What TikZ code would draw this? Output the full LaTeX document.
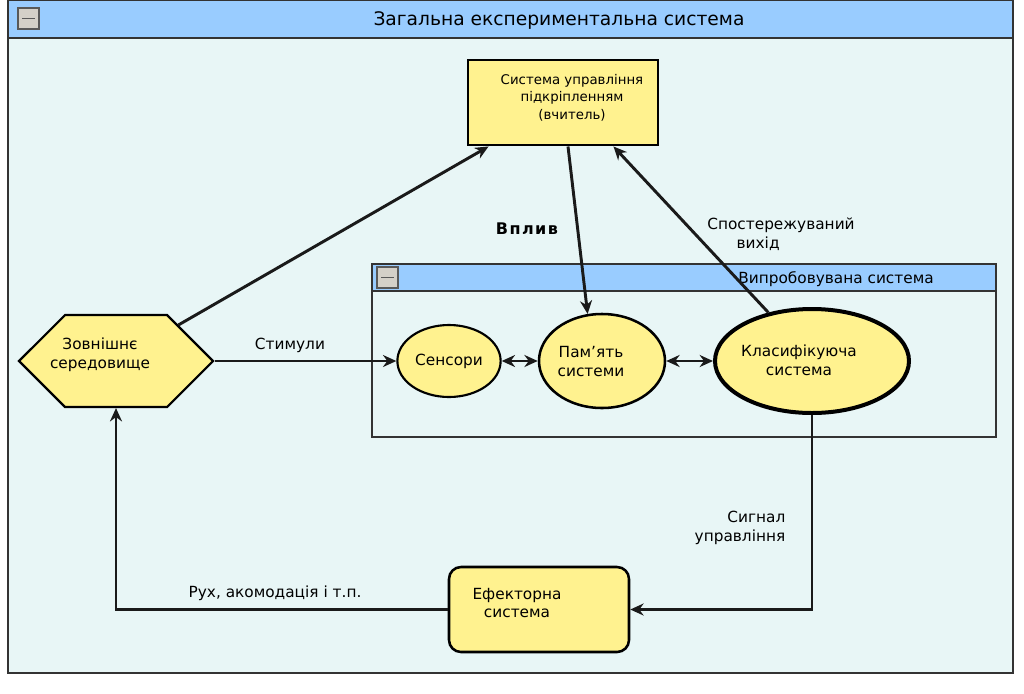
\documentclass[tikz,border=0pt]{standalone}
\usepackage{fontspec}
\setmainfont{DejaVu Sans}
\newfontfamily\spacedbold[LetterSpace=9]{DejaVu Sans Bold}
\usetikzlibrary{arrows.meta,shapes.geometric,shapes.symbols,calc}
\definecolor{headblue}{HTML}{99CCFF}
\definecolor{paleback}{HTML}{E8F6F6}
\definecolor{boxyellow}{HTML}{FFF28F}
\definecolor{btngrey}{HTML}{D4D0C8}
\definecolor{ink}{HTML}{1A1A1A}

\begin{document}
\begin{tikzpicture}[x=0.75pt,y=-0.75pt,font=\fontsize{11.5}{14}\selectfont,%
        frm/.style={draw=black!80, line width=0.8pt},
        btn/.style={draw=black!65, fill=btngrey, line width=0.8pt,%
                        minimum size=15.75pt, inner sep=0pt,%
                        path picture={\draw[line width=0.9pt]
                            ([xshift=3pt]path picture bounding box.west) --
                            ([xshift=-3pt]path picture bounding box.east);}},
        part/.style={draw, fill=boxyellow, align=center, inner sep=2pt},
        blob/.style={part, ellipse, line width=1.6pt},
        txt/.style={align=center, inner sep=0pt},
        arr/.style={draw=ink, line width=2.2pt, -{Stealth[length=10pt,width=9pt]}},
        twoarr/.style={draw=ink, line width=2.2pt,%
                        {Stealth[length=10pt,width=9pt]}-{Stealth[length=10pt,width=9pt]}},
        elbow/.style={draw=ink, line width=1.8pt, -{Stealth[length=10pt,width=9pt]}}]
    \useasboundingbox (0,0) rectangle (1024,693);

    % outer frame
    \draw[frm, fill=paleback] (8,0) rectangle (1013,673);
    \draw[frm, fill=headblue] (8,0) rectangle (1013,38);
    \node[btn] (outbtn) at (28.5,18.5) {};
    \node[font=\fontsize{14}{16}\selectfont] (outtitle) at (559,21)
        {Загальна експериментальна система};

    % inner frame
    \draw[frm, fill=paleback] (372,264) rectangle (996,437);
    \draw[frm, fill=headblue] (372,264) rectangle (996,291);
    \node[btn] (inbtn) at (387.5,277.5) {};
    \node (intitle) at (836,279) {Випробовувана система};

    % blocks (text set a little off centre, as drawn)
    \node[part, line width=2.2pt, minimum width=142.5pt, minimum height=63.75pt]
        (tea) at (563,102.5) {};
    \node[txt, font=\fontsize{10}{13}\selectfont] (teatext) at (572,97.5)
        {Система управління\\підкріпленням\\(вчитель)};
    \node[part, signal, signal to=east and west, signal pointer angle=90,%
          line width=1.6pt, minimum width=145.5pt, minimum height=69pt]
        (env) at (116,361) {};
    \node[txt] (envtext) at (100,354.5) {Зовнішнє\\середовище};
    \node[blob, minimum width=76.5pt, minimum height=54pt] (sen) at (449,361) {Сенсори};
    \node[blob, line width=1.9pt, minimum width=94.5pt, minimum height=70.5pt]
        (mem) at (602,361) {};
    \node[txt] (memtext) at (591,361.5) {Пам’ять\\системи};
    \node[blob, line width=3pt, minimum width=145.5pt, minimum height=78pt]
        (cls) at (812,361) {};
    \node[txt] (clstext) at (799,360) {Класифікуюча\\система};
    \node[part, rounded corners=9pt, line width=1.9pt,%
          minimum width=135pt, minimum height=63.75pt]
        (eff) at (539,609.5) {};
    \node[txt] (efftext) at (517,603) {Ефекторна\\система};

    % connectors
    \draw[arr] (env.30) -- ($(tea.south west)+(22,0)$);
    \draw[arr] ($(tea.south)+(5,0)$) -- (mem.107);
    \draw[arr] (cls.132) -- ($(tea.south east)+(-46,0)$);
    \draw[arr] (env.east) -- (sen.west);
    \draw[twoarr] (sen.east) -- (mem.west);
    \draw[twoarr] (mem.east) -- (cls.west);
    \draw[elbow] (cls.south) |- (eff.east);
    \draw[elbow] (eff.west) -| (env.south);

    % labels
    \node (stim) at (290,345) {Стимули};
    \node[font=\spacedbold\fontsize{12}{14}\selectfont] (vplyv) at (527,229) {Вплив};
    \node[align=left] (obs) at (781,234) {Спостережуваний\\\hspace*{22pt}вихід};
    \node[align=right] (sig) at (740,528) {Сигнал\\управління};
    \node (move) at (275,593) {Рух, акомодація і т.п.};
\end{tikzpicture}
\end{document}
